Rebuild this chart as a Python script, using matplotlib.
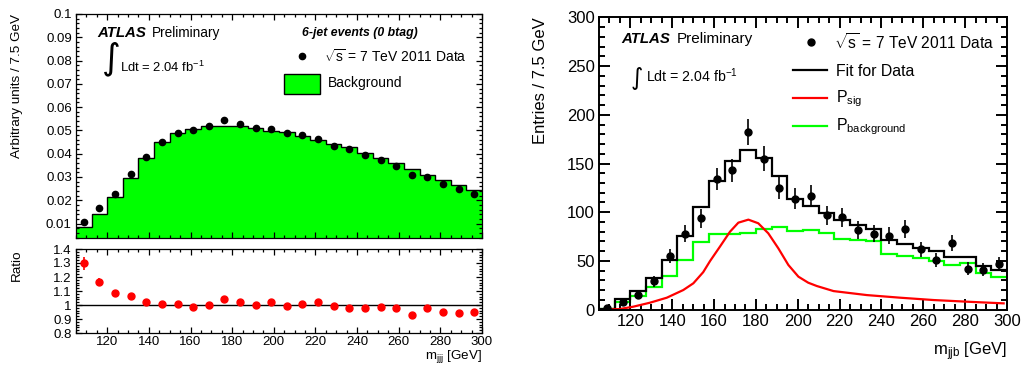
import numpy as np
import matplotlib
matplotlib.use('Agg')
import matplotlib.pyplot as plt
from matplotlib.ticker import MultipleLocator, FormatStrFormatter
from matplotlib.patches import Rectangle

plt.rcParams['font.family'] = 'Liberation Sans'
plt.rcParams['mathtext.fontset'] = 'custom'
plt.rcParams['mathtext.rm'] = 'Liberation Sans'
plt.rcParams['mathtext.it'] = 'Liberation Sans:italic'
plt.rcParams['mathtext.bf'] = 'Liberation Sans:bold'

# 7.5 GeV bins from 105 to 300 GeV
bin_edges = np.arange(105, 300.1, 7.5)
bin_centers = 0.5*(bin_edges[1:] + bin_edges[:-1])

#################
# left : m_jjj shape, 6-jet events (0 btag)
#################
bkg_shape = [0.0085, 0.0143, 0.0212, 0.0295, 0.0380, 0.0449, 0.0487, 0.0508, 0.0520, 0.0521,
             0.0520, 0.0510, 0.0496, 0.0494, 0.0477, 0.0458, 0.0440, 0.0430, 0.0405, 0.0382,
             0.0358, 0.0334, 0.0308, 0.0286, 0.0265, 0.0243]
data_shape = [0.0107, 0.0167, 0.0229, 0.0312, 0.0385, 0.0450, 0.0488, 0.0501, 0.0517, 0.0543,
              0.0528, 0.0510, 0.0504, 0.0490, 0.0480, 0.0465, 0.0432, 0.0419, 0.0394, 0.0374,
              0.0348, 0.0309, 0.0299, 0.0268, 0.0249, 0.0229]
ratio = [1.298, 1.167, 1.088, 1.064, 1.022, 1.008, 1.005, 0.986, 0.998, 1.046,
         1.018, 1.000, 1.019, 0.995, 1.007, 1.021, 0.993, 0.979, 0.979, 0.988,
         0.981, 0.931, 0.979, 0.948, 0.940, 0.948]
ratio_err = [0.045, 0.025, 0.012, 0.010, 0.008, 0.008, 0.008, 0.008, 0.008, 0.008,
             0.008, 0.008, 0.008, 0.008, 0.008, 0.008, 0.008, 0.008, 0.008, 0.008,
             0.008, 0.008, 0.008, 0.008, 0.008, 0.008]

#################
# right : m_jjb fit
#################
data_counts = [2, 8, 15, 29, 55, 78, 94, 134, 143, 182, 155, 125, 114, 117, 97, 95, 82, 78, 76, 83,
               62, 51, 68, 42, 41, 47]
fit_counts = [1, 10.5, 19.5, 33, 51, 76, 105, 132, 153, 164, 156, 137, 114, 106, 99, 92, 87, 83, 71, 67,
              63, 60, 54, 54, 45, 41]
bkg_counts = [1, 8, 14, 23, 35, 51, 69, 78, 78, 79, 83, 85, 81, 82, 79, 73, 71, 70, 57, 55,
              53, 50, 46, 48, 38, 34]
sig_mass = [108, 115, 121.4, 129.4, 137.4, 145.3, 150.1, 154.8, 158.1, 162.8, 167.6, 171.6, 176.4,
            181.1, 185.9, 190.7, 195.5, 200.3, 205.0, 209.1, 217.1, 233, 249, 265, 281, 298.4]
sig_curve = [0.0, 0.7, 3.1, 7.2, 12.3, 20.2, 27.1, 38.5, 50.0, 64.7, 80.0, 89.3, 92.4,
             88.7, 78.4, 63.0, 45.9, 33.9, 27.7, 24.3, 19.1, 15.0, 12.3, 9.9, 8.2, 6.5]

W, H = 1022, 365
fig = plt.figure(figsize=(W/100, H/100), dpi=100)

def px_box(x0, y0, x1, y1):
    return [x0/W, 1 - y1/H, (x1 - x0)/W, (y1 - y0)/H]

def root_ticks(ax, major, minor, lw, size):
    ax.tick_params(which='both', direction='in', top=True, right=True, width=lw,
                   labelsize=size, pad=3)
    ax.tick_params(which='major', length=major)
    ax.tick_params(which='minor', length=minor)
    for s in ax.spines.values():
        s.set_linewidth(lw)

green = '#00ff00'
red = '#ff0000'

ax_top = fig.add_axes(px_box(76, 14, 482, 238))
ax_rat = fig.add_axes(px_box(76, 249, 482, 333))
ax_fit = fig.add_axes(px_box(599, 17.3, 1007, 309.7))

# ---- left top
ax_top.stairs(bkg_shape, bin_edges, fill=True, color=green, lw=0)
ax_top.stairs(bkg_shape, bin_edges, color='k', lw=1.0, baseline=None)
ax_top.plot(bin_centers, data_shape, 'o', color='k', ms=4.5)
ax_top.set_xlim(105, 300)
ax_top.set_ylim(0.0038, 0.1)
ax_top.xaxis.set_major_locator(MultipleLocator(20))
ax_top.xaxis.set_minor_locator(MultipleLocator(5))
ax_top.yaxis.set_major_locator(MultipleLocator(0.01))
ax_top.yaxis.set_minor_locator(MultipleLocator(0.002))
ax_top.yaxis.set_major_formatter(FormatStrFormatter('%g'))
ax_top.tick_params(labelbottom=False)
root_ticks(ax_top, 4.5, 2.2, 0.9, 9.5)
ax_top.set_ylabel('Arbitrary units / 7.5 GeV', loc='top', fontsize=9.7)
ax_top.yaxis.set_label_coords(-0.13, 1.0)

tr = ax_top.transAxes
ax_top.text(0.052, 0.915, 'ATLAS', weight='bold', style='italic', fontsize=10.8, va='center', transform=tr)
ax_top.text(0.187, 0.915, 'Preliminary', fontsize=9.8, va='center', transform=tr)
ax_top.text(0.086, 0.80, '\u222b', family='DejaVu Sans', fontsize=26, ha='center', va='center', transform=tr)
ax_top.text(0.108, 0.763, 'Ldt = 2.04 fb$^{-1}$', fontsize=9.4, va='center', transform=tr)
ax_top.text(0.557, 0.915, '6-jet events (0 btag)', weight='bold', style='italic', fontsize=8.8, va='center', transform=tr)
ax_top.plot([0.557], [0.8125], 'o', color='k', ms=4.5, transform=tr, clip_on=False)
ax_top.text(0.612, 0.808, r'$\sqrt{\mathrm{s}}$ = 7 TeV 2011 Data', fontsize=10, va='center', transform=tr)
ax_top.add_patch(Rectangle((0.512, 0.643), 0.089, 0.089, facecolor=green, edgecolor='k', lw=1, transform=tr))
ax_top.text(0.621, 0.692, 'Background', fontsize=10, va='center', transform=tr)

# ---- left ratio
ax_rat.axhline(1.0, color='k', lw=1.0)
ax_rat.errorbar(bin_centers, ratio, yerr=ratio_err, fmt='o', color=red, ms=5, elinewidth=1.2, capsize=0)
ax_rat.set_xlim(105, 300)
ax_rat.set_ylim(0.8, 1.4)
ax_rat.xaxis.set_major_locator(MultipleLocator(20))
ax_rat.xaxis.set_minor_locator(MultipleLocator(5))
ax_rat.yaxis.set_major_locator(MultipleLocator(0.1))
ax_rat.yaxis.set_minor_locator(MultipleLocator(0.02))
ax_rat.yaxis.set_major_formatter(FormatStrFormatter('%g'))
root_ticks(ax_rat, 4.5, 2.2, 0.9, 9.5)
ax_rat.tick_params(axis='x', pad=2)
ax_rat.set_ylabel('Ratio', loc='top', fontsize=9.7)
ax_rat.yaxis.set_label_coords(-0.13, 1.0)
ax_rat.set_xlabel(r'm$_{\mathrm{jjj}}$ [GeV]', loc='right', fontsize=9.6)
ax_rat.xaxis.set_label_coords(1.0, -0.18)

# ---- right
ax_fit.stairs(bkg_counts, bin_edges, color=green, lw=1.6, baseline=None)
ax_fit.stairs(fit_counts, bin_edges, color='k', lw=1.6, baseline=None)
ax_fit.plot(sig_mass, sig_curve, color=red, lw=1.6)
ax_fit.errorbar(bin_centers, data_counts, yerr=np.sqrt(data_counts), fmt='o', color='k',
                ms=5, elinewidth=1.2, capsize=0)
ax_fit.set_xlim(105, 300)
ax_fit.set_ylim(0, 300)
ax_fit.xaxis.set_major_locator(MultipleLocator(20))
ax_fit.xaxis.set_minor_locator(MultipleLocator(5))
ax_fit.yaxis.set_major_locator(MultipleLocator(50))
ax_fit.yaxis.set_minor_locator(MultipleLocator(10))
root_ticks(ax_fit, 8, 4, 1.4, 12)
ax_fit.set_ylabel('Entries / 7.5 GeV', loc='top', fontsize=12)
ax_fit.yaxis.set_label_coords(-0.125, 1.0)
ax_fit.set_xlabel(r'm$_{\mathrm{jjb}}$ [GeV]', loc='right', fontsize=12)
ax_fit.xaxis.set_label_coords(1.0, -0.105)

tr = ax_fit.transAxes
ax_fit.text(0.054, 0.927, 'ATLAS', weight='bold', style='italic', fontsize=10.8, va='center', transform=tr)
ax_fit.text(0.191, 0.927, 'Preliminary', fontsize=11, va='center', transform=tr)
ax_fit.text(0.093, 0.792, '\u222b', family='DejaVu Sans', fontsize=17, ha='center', va='center', transform=tr)
ax_fit.text(0.115, 0.80, 'Ldt = 2.04 fb$^{-1}$', fontsize=10.2, va='center', transform=tr)
ax_fit.plot([0.520], [0.915], 'o', color='k', ms=5, transform=tr, clip_on=False)
ax_fit.text(0.575, 0.911, r'$\sqrt{\mathrm{s}}$ = 7 TeV 2011 Data', fontsize=11.2, va='center', transform=tr)
ax_fit.plot([0.475, 0.56], [0.82, 0.82], color='k', lw=1.6, transform=tr)
ax_fit.text(0.58, 0.815, 'Fit for Data', fontsize=11.4, va='center', transform=tr)
ax_fit.plot([0.475, 0.56], [0.725, 0.725], color=red, lw=1.6, transform=tr)
ax_fit.text(0.58, 0.722, r'P$_{\mathrm{sig}}$', fontsize=11.4, va='center', transform=tr)
ax_fit.plot([0.475, 0.56], [0.629, 0.629], color=green, lw=1.6, transform=tr)
ax_fit.text(0.58, 0.626, r'P$_{\mathrm{background}}$', fontsize=11.4, va='center', transform=tr)

fig.savefig('out.png', dpi=100)
